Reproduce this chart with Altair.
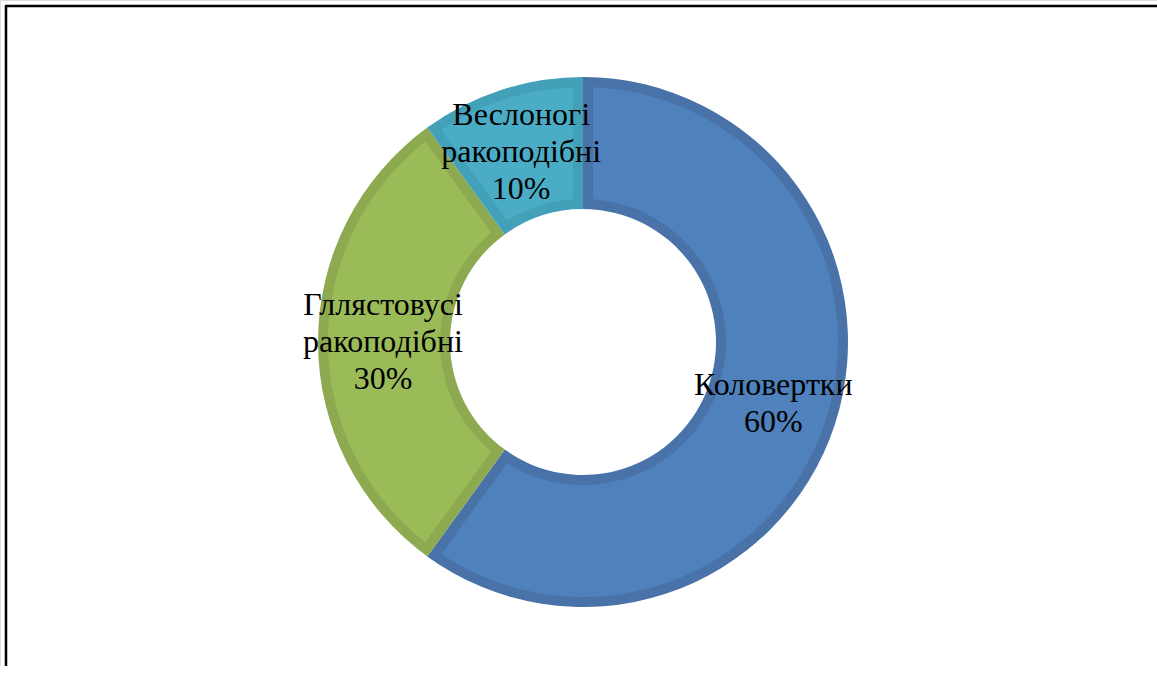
import altair as alt
import pandas as pd

categories = ["Коловертки", "Гллястовусі ракоподібні", "Веслоногі ракоподібні"]
values = [60, 30, 10]
labels = ["Коловертки\n60%", "Гллястовусі\nракоподібні\n30%", "Веслоногі\nракоподібні\n10%"]
line_counts = [2, 3, 3]
fill_colors = ["#4F81BD", "#9BBB59", "#4BACC6"]
edge_colors = ["#4872A8", "#8DAA50", "#42A0B8"]

df = pd.DataFrame({
    "cat": categories,
    "value": values,
    "label": labels,
    "lines": line_counts,
    "order": [0, 1, 2],
})

W, H = 1157, 666
CX, CY = 583, 342
LH = 37

theta = alt.Theta("value:Q", stack=True)
order = alt.Order("order:Q")

edge = alt.Chart(df).mark_arc(
    x=CX, y=CY, radius=265, radius2=133
).encode(
    theta=theta,
    order=order,
    color=alt.Color("cat:N", scale=alt.Scale(domain=categories, range=edge_colors), legend=None),
)

fill = alt.Chart(df).mark_arc(
    x=CX, y=CY, radius=255, radius2=143, padAngle=0.068
).encode(
    theta=theta,
    order=order,
    fill=alt.Fill("cat:N", scale=alt.Scale(domain=categories, range=fill_colors), legend=None),
)


def label_layer(n):
    return alt.Chart(df).transform_stack(
        stack="value", groupby=[], as_=["v0", "v1"], sort=[alt.SortField("order")]
    ).transform_filter(alt.datum.lines == n).transform_calculate(
        mid="(datum.v0 + datum.v1) / 2"
    ).mark_text(
        x=CX, y=CY, radius=200, font="Liberation Serif", fontSize=32,
        lineBreak="\n", lineHeight=LH, align="center", baseline="middle",
        color="black", dy=-LH * (n - 1) / 2
    ).encode(
        theta=alt.Theta("mid:Q", scale=alt.Scale(domain=[0, 100]), stack=False),
        text="label:N",
    )


frame_df = pd.DataFrame({"k": [0]})
left_line = alt.Chart(frame_df).mark_rule(color="black", strokeWidth=2.5).encode(
    x=alt.value(6), y=alt.value(5), y2=alt.value(H + 10)
)
top_line = alt.Chart(frame_df).mark_rule(color="black", strokeWidth=2.5).encode(
    x=alt.value(5), x2=alt.value(W + 10), y=alt.value(6)
)

chart = alt.layer(edge, fill, label_layer(2), label_layer(3), left_line, top_line).resolve_scale(
    color="independent", fill="independent", theta="independent"
).properties(
    width=W, height=H, padding=0, autosize=alt.AutoSizeParams(type="none")
).configure_view(stroke=None).configure(background="white")

chart.save("out.html", embed_options={"renderer": "svg", "actions": False})
